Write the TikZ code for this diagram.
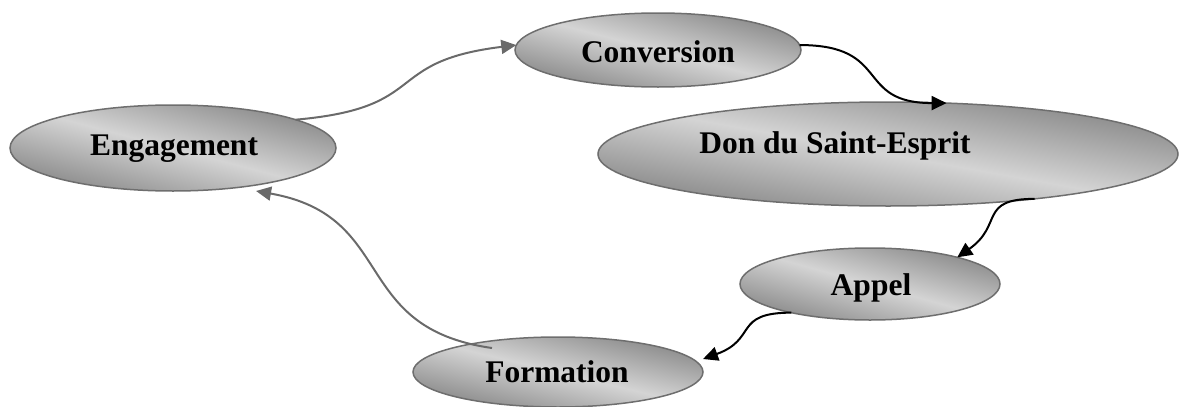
\documentclass[tikz,border=0pt]{standalone}
\usepackage{fontspec}
\setmainfont{Liberation Serif}
\usetikzlibrary{arrows.meta,calc,shapes.geometric}
\definecolor{gdark}{HTML}{929292}
\definecolor{glight}{HTML}{D4D4D4}
\definecolor{gborder}{HTML}{6E6E6E}
\definecolor{garrow}{HTML}{6A6A6A}
\tikzset{
  bubble/.style={ellipse, draw=gborder, line width=1.5pt, inner sep=0pt, outer sep=0pt},
  bubbleshade/.style={top color=gdark, bottom color=gdark, middle color=glight, shading angle=-45},
  lbl/.style={font=\fontsize{31.5}{36}\selectfont\bfseries, anchor=base, inner sep=0pt},
  grayarrow/.style={draw=garrow, line width=2pt, -{Triangle[length=15pt,width=14pt]}, garrow},
  blackarrow/.style={draw=black, line width=2pt, -{Triangle[length=15pt,width=14pt]}},
}
% shaded ellipse: centre x, centre y, rx, ry
\newcommand{\myshade}[4]{%
  \begin{scope}[transform canvas={shift={(#1,#2)}, xscale=#3/#4}]
    \shade[bubbleshade] (0,0) circle (#4);
  \end{scope}}
\begin{document}
\begin{tikzpicture}[x=1pt,y=1pt]
\useasboundingbox (0,0) rectangle (1179,-407);
% shadings
\myshade{173}{-148}{163}{43}
\myshade{658}{-50}{143}{37}
\myshade{888}{-154}{290}{52}
\myshade{870}{-284}{130}{36}
\myshade{558}{-372}{145}{35}
% ellipses
\node[bubble, minimum width=326pt, minimum height=86pt] (eng) at (173,-148) {};
\node[bubble, minimum width=286pt, minimum height=74pt] (conv) at (658,-50) {};
\node[bubble, minimum width=580pt, minimum height=104pt] (don) at (888,-154) {};
\node[bubble, minimum width=260pt, minimum height=72pt] (appel) at (870,-284) {};
\node[bubble, minimum width=290pt, minimum height=70pt] (form) at (558,-372) {};
% texts
\node[lbl] (t-eng) at (174,-155) {Engagement};
\node[lbl] (t-conv) at (658,-62) {Conversion};
\node[lbl] (t-don) at (835,-153) {Don du Saint-Esprit};
\node[lbl] (t-appel) at (871,-295) {Appel};
\node[lbl] (t-form) at (557,-382) {Formation};
% connectors
\draw[grayarrow] (eng.13) to[out=5,in=187,looseness=1.5] (conv.178);
\draw[blackarrow] (conv.2) to[out=0,in=180,looseness=1.5] (don.41);
\draw[blackarrow] (don.-17.6) to[out=180,in=35,looseness=1.5] (appel.17);
\draw[blackarrow] (appel.200) to[out=180,in=20,looseness=1.5] ($(form.east)+(0,13)$);
\draw[grayarrow] ($(form.center)+(-66,24)$) to[out=172,in=-10,looseness=1.3] ($(eng.-24)+(0,-6)$);
\end{tikzpicture}
\end{document}
